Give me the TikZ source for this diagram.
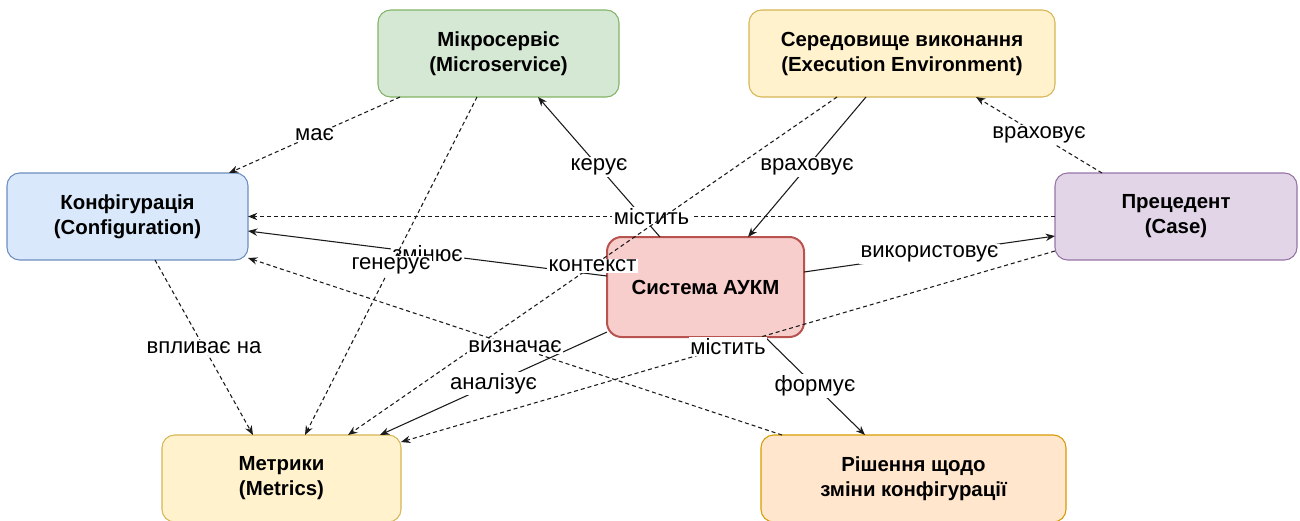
\documentclass[tikz,border=0pt]{standalone}
\usepackage{fontspec}
\setmainfont{Liberation Sans}
\usetikzlibrary{arrows.meta,calc}

\definecolor{msfill}{HTML}{D5E8D4}\definecolor{msline}{HTML}{82B366}
\definecolor{yfill}{HTML}{FFF2CC}\definecolor{yline}{HTML}{D6B656}
\definecolor{bfill}{HTML}{DAE8FC}\definecolor{bline}{HTML}{6C8EBF}
\definecolor{pfill}{HTML}{E1D5E7}\definecolor{pline}{HTML}{9673A6}
\definecolor{rfill}{HTML}{F8CECC}\definecolor{rline}{HTML}{B85450}
\definecolor{ofill}{HTML}{FFE6CC}\definecolor{oline}{HTML}{D79B00}
\definecolor{edgecol}{HTML}{1A1A1A}

\begin{document}
\begin{tikzpicture}[x=0.75pt,y=-0.75pt,
  box/.style={rectangle, rounded corners=9.5pt, line width=0.8pt, outer sep=0pt,
    align=center, text=black, font=\bfseries\fontsize{15.3}{18.75}\selectfont},
  lbl/.style={fill=white, inner sep=1pt, text=black,
    font=\fontsize{16.6}{19}\selectfont},
  link/.style={draw=edgecol, line width=0.8pt, -{Stealth[length=7pt,width=5.5pt]}},
  dlink/.style={link, dash pattern=on 3pt off 2.25pt}]

\useasboundingbox (0,0) rectangle (1300,521);

% entities
\node[box, fill=msfill, draw=msline, minimum width=180.75pt, minimum height=65.25pt]
  (ms) at (498.5,53.5) {Мікросервіс\\(Microservice)};
\node[box, fill=yfill, draw=yline, minimum width=229.5pt, minimum height=65.25pt]
  (env) at (902,53.5) {Середовище виконання\\(Execution Environment)};
\node[box, fill=bfill, draw=bline, minimum width=180.75pt, minimum height=65.25pt]
  (cfg) at (127.5,216.5) {Конфігурація\\(Configuration)};
\node[box, fill=pfill, draw=pline, minimum width=181.5pt, minimum height=65.25pt]
  (case) at (1176,216.5) {Прецедент\\(Case)};
\node[box, fill=rfill, draw=rline, line width=1.5pt, rounded corners=11pt,
  minimum width=147.75pt, minimum height=75pt]
  (sys) at (705.5,287) {Система АУКМ};
\node[box, fill=yfill, draw=yline, minimum width=179.25pt, minimum height=65.25pt]
  (met) at (281.5,478.5) {Метрики\\(Metrics)};
\node[box, fill=ofill, draw=oline, minimum width=228.75pt, minimum height=65.25pt]
  (dec) at (913.5,478.5) {Рішення щодо\\зміни конфігурації};

% relations
\draw[dlink] ($(ms.south west)+(22,0)$) -- ($(cfg.north east)+(-19,0)$)
  node[midway, lbl] {має};
\draw[link] ($(sys.north west)+(53,0)$) -- ($(ms.south west)+(160,0)$)
  node[midway, lbl] {керує};
\draw[link] ($(env.south west)+(117,0)$) -- ($(sys.north west)+(141,0)$)
  node[midway, lbl] {враховує};
\draw[dlink] ($(case.north west)+(47,0)$) -- ($(env.south west)+(227,0)$)
  node[midway, lbl] {враховує};
\draw[dlink] (case.west) -- (cfg.east)
  node[midway, lbl] {містить};
\draw[link] ($(sys.west)+(0,-11)$) -- ($(cfg.east)+(0,14.5)$)
  node[midway, lbl] {змінює};
\draw[dlink] ($(ms.south west)+(99,0)$) -- ($(met.north west)+(143,0)$)
  node[midway, lbl] {генерує};
\draw[dlink] ($(cfg.south west)+(148,0)$) -- ($(met.north west)+(91,0)$)
  node[midway, lbl] {впливає на};
\draw[dlink] ($(env.south west)+(88,0)$) -- ($(met.north west)+(186,0)$)
  node[midway, lbl] {контекст};
\draw[link] ($(sys.south west)+(0,-5)$) -- ($(met.north west)+(218,0)$)
  node[midway, lbl] {аналізує};
\draw[dlink] ($(dec.north west)+(21,0)$) -- ($(cfg.south east)+(0,-2)$)
  node[midway, lbl] {визначає};
\draw[link] ($(sys.south west)+(158,0)$) -- ($(dec.north west)+(104,0)$)
  node[midway, lbl] {формує};
\draw[dlink] ($(case.south west)+(0,-9)$) -- ($(met.north east)+(0,7)$)
  node[midway, lbl] {містить};
\draw[link] ($(sys.east)+(0,-15)$) -- ($(case.west)+(0,19.5)$)
  node[midway, lbl] {використовує};

\end{tikzpicture}
\end{document}
